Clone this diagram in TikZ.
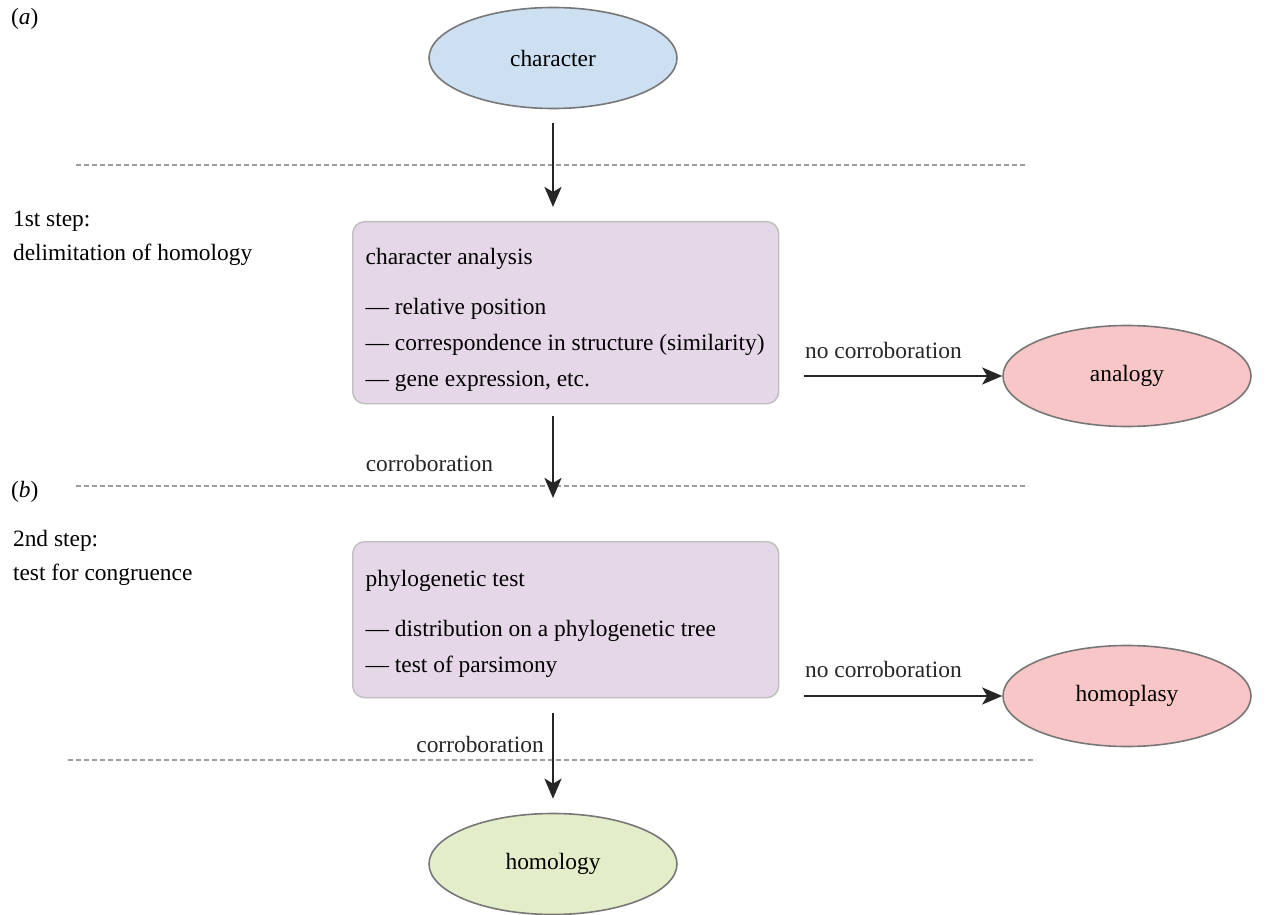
\documentclass[tikz,border=0pt]{standalone}
\usepackage{fontspec}
\setmainfont{Liberation Serif}
\usetikzlibrary{arrows.meta,positioning,shapes.geometric}

\definecolor{charblue}{HTML}{CCE0F1}
\definecolor{nored}{HTML}{F8C6C6}
\definecolor{yesgreen}{HTML}{E4EDC9}
\definecolor{boxfill}{HTML}{E6D7E8}
\definecolor{boxline}{HTML}{BEBEBE}
\definecolor{ovalline}{HTML}{777777}
\definecolor{sepline}{HTML}{9C9C9C}

\begin{document}
\begin{tikzpicture}[x=.5pt, y=-.5pt,
        font=\fontsize{11.7}{18}\selectfont,
        oval/.style={ellipse, draw=ovalline, line width=.8pt, minimum width=124pt, minimum height=50.5pt, inner sep=0pt},
        stepbox/.style={rectangle, rounded corners=6pt, draw=boxline, line width=.7pt, fill=boxfill,
          text width=200pt, align=flush left, inner xsep=6.5pt, inner ysep=5pt, minimum height=#1, anchor=north west},
        flow/.style={-{Stealth[length=10pt,width=8.5pt,inset=2.5pt]}, line width=1.2pt, black!85},
        sep/.style={draw=sepline, line width=.6pt, dash pattern=on 2.3pt off 1.7pt},
        side/.style={align=left, anchor=west, font=\fontsize{11.7}{17}\selectfont}
      ]
      \useasboundingbox (0,0) rectangle (1282,915);

      % ovals
      \node [oval, fill=charblue] (character) at (553,58) {character};
      \node [oval, fill=nored] (analogy) at (1127,376) {analogy};
      \node [oval, fill=nored] (homoplasy) at (1127,696) {homoplasy};
      \node [oval, fill=yesgreen] (homology) at (553,864) {homology};

      % boxes
      \node [stepbox=91pt] (analysis) at (352,221) {\rule{0pt}{15pt}character analysis\\[7pt]
        --- relative position\\
        --- correspondence in structure (similarity)\\
        --- gene expression, etc.};
      \node [stepbox=78pt] (phylo) at (352,541) {\rule{0pt}{12.5pt}phylogenetic test\\[7pt]
        --- distribution on a phylogenetic tree\\
        --- test of parsimony};

      % side labels
      \node [anchor=west] (parta) at (4,19) {(\textit{a})};
      \node [anchor=west] (partb) at (4,492) {(\textit{b})};
      \node [side] (step1) at (6,238) {1st step:\\delimitation of homology};
      \node [side] (step2) at (6,558) {2nd step:\\test for congruence};

      % separators
      \draw [sep] (76,165) -- (1028,165);
      \draw [sep] (76,486) -- (1028,486);
      \draw [sep] (68,760) -- (1036,760);

      % arrows
      \path (character) edge[flow, shorten <=7pt, shorten >=7pt] (character |- analysis.north);
      \path (analysis.south -| character) edge[flow, shorten <=6pt, shorten >=21.5pt]
        node[pos=.43, left=26pt] (corr1) {corroboration} (phylo.north -| character);
      \path (phylo.south -| character) edge[flow, shorten <=7.5pt, shorten >=7pt]
        node[pos=.4, left=.7pt] (corr2) {corroboration} (homology.north);
      \path (analysis.east |- analogy) edge[flow, shorten <=12.5pt, shorten >=0pt]
        node[pos=.11, anchor=base west, yshift=9pt, inner sep=0pt] (nocorr1) {no corroboration} (analogy.west);
      \path (phylo.east |- homoplasy) edge[flow, shorten <=12.5pt, shorten >=0pt]
        node[pos=.11, anchor=base west, yshift=9.5pt, inner sep=0pt] (nocorr2) {no corroboration} (homoplasy.west);
    \end{tikzpicture}
\end{document}
